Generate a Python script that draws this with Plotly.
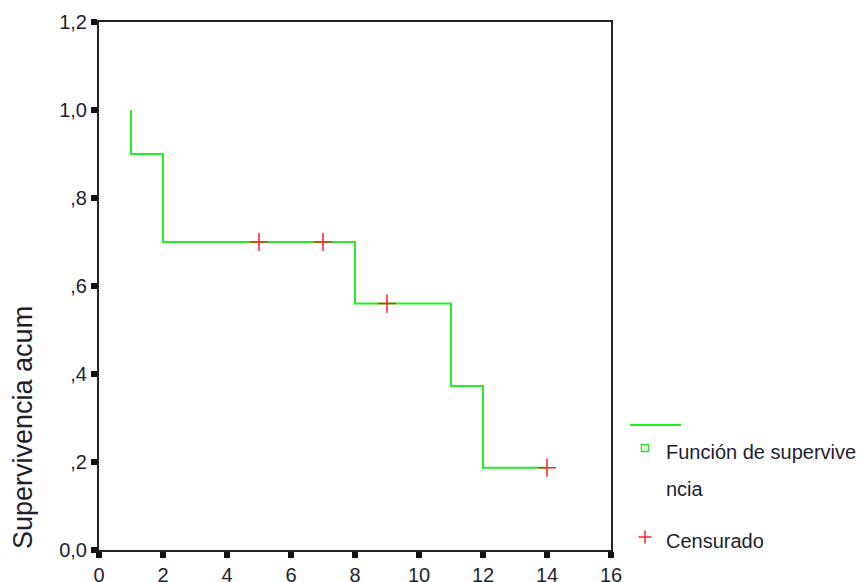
import plotly.graph_objects as go

# Kaplan-Meier survival estimate
event_times = [1, 2, 8, 11, 12]
survival = [0.9, 0.7, 0.56, 0.373, 0.187]
start_time = 1
end_time = 14
censored_times = [5, 7, 9, 14]
censored_surv = [0.7, 0.7, 0.56, 0.187]

x_ticks = [0, 2, 4, 6, 8, 10, 12, 14, 16]
y_ticks = [0.0, 0.2, 0.4, 0.6, 0.8, 1.0, 1.2]
y_tick_text = ["0,0", ",2", ",4", ",6", ",8", "1,0", "1,2"]

# build step path
sx = [start_time]
sy = [1.0]
prev = 1.0
for t, s in zip(event_times, survival):
    sx += [t, t]
    sy += [prev, s]
    prev = s
sx.append(end_time)
sy.append(prev)

green = "#22ee22"
red = "#ff2020"
text_color = "#1e1e2e"
regular = "Liberation Sans, Arial, sans-serif"

fig = go.Figure()
fig.add_trace(go.Scatter(x=sx, y=sy, mode="lines", line=dict(color=green, width=2),
                         showlegend=False, hoverinfo="skip"))
fig.add_trace(go.Scatter(x=censored_times, y=censored_surv, mode="markers",
                         marker=dict(symbol="cross-thin", size=13,
                                     line=dict(color=red, width=1.5)),
                         showlegend=False))

axis_common = dict(showgrid=False, zeroline=False, showline=True, linecolor="#222",
                   linewidth=2, mirror=True, ticks="outside", ticklen=6, tickwidth=6,
                   tickcolor="#111", automargin=False,
                   tickfont=dict(family=regular, size=20, color=text_color))

fig.update_xaxes(range=[0, 16], tickvals=x_ticks, **axis_common)
fig.update_yaxes(range=[0, 1.2], tickvals=y_ticks, ticktext=y_tick_text, **axis_common)

W, H = 868, 582
ml, mr, mt, mb = 99, 257, 22, 32
pw, ph = W - ml - mr, H - mt - mb

def px(xp):
    return (xp - ml) / pw

def py(yp):
    return (H - mb - yp) / ph

# y-axis title
fig.add_annotation(x=px(23), y=py(428), xref="paper", yref="paper",
                   text="Supervivencia acum", textangle=-90, showarrow=False,
                   xanchor="center", yanchor="middle",
                   font=dict(family=regular, size=27, color=text_color))

# legend drawn in paper coordinates
line_kw = dict(type="line", xref="paper", yref="paper")
fig.add_shape(x0=px(630), x1=px(681), y0=py(425), y1=py(425),
              line=dict(color=green, width=2), **line_kw)
fig.add_shape(type="rect", xref="paper", yref="paper",
              x0=px(641.5), x1=px(648.5), y0=py(451.5), y1=py(444.5),
              line=dict(color=green, width=1.5))
# censored symbol in legend
fig.add_shape(x0=px(638.5), x1=px(651.5), y0=py(537), y1=py(537),
              line=dict(color=red, width=1.5), **line_kw)
fig.add_shape(x0=px(645), x1=px(645), y0=py(530.5), y1=py(543.5),
              line=dict(color=red, width=1.5), **line_kw)

legend_font = dict(family=regular, size=20, color=text_color)
for text, yp in [("Función de supervive", 452), ("ncia", 489), ("Censurado", 541)]:
    fig.add_annotation(x=px(664), y=py(yp), xref="paper", yref="paper",
                       text=text, showarrow=False, xanchor="left", yanchor="middle",
                       font=legend_font)

fig.update_layout(width=W, height=H, margin=dict(l=ml, r=mr, t=mt, b=mb),
                  plot_bgcolor="white", paper_bgcolor="white")

fig.write_html("out.html")
